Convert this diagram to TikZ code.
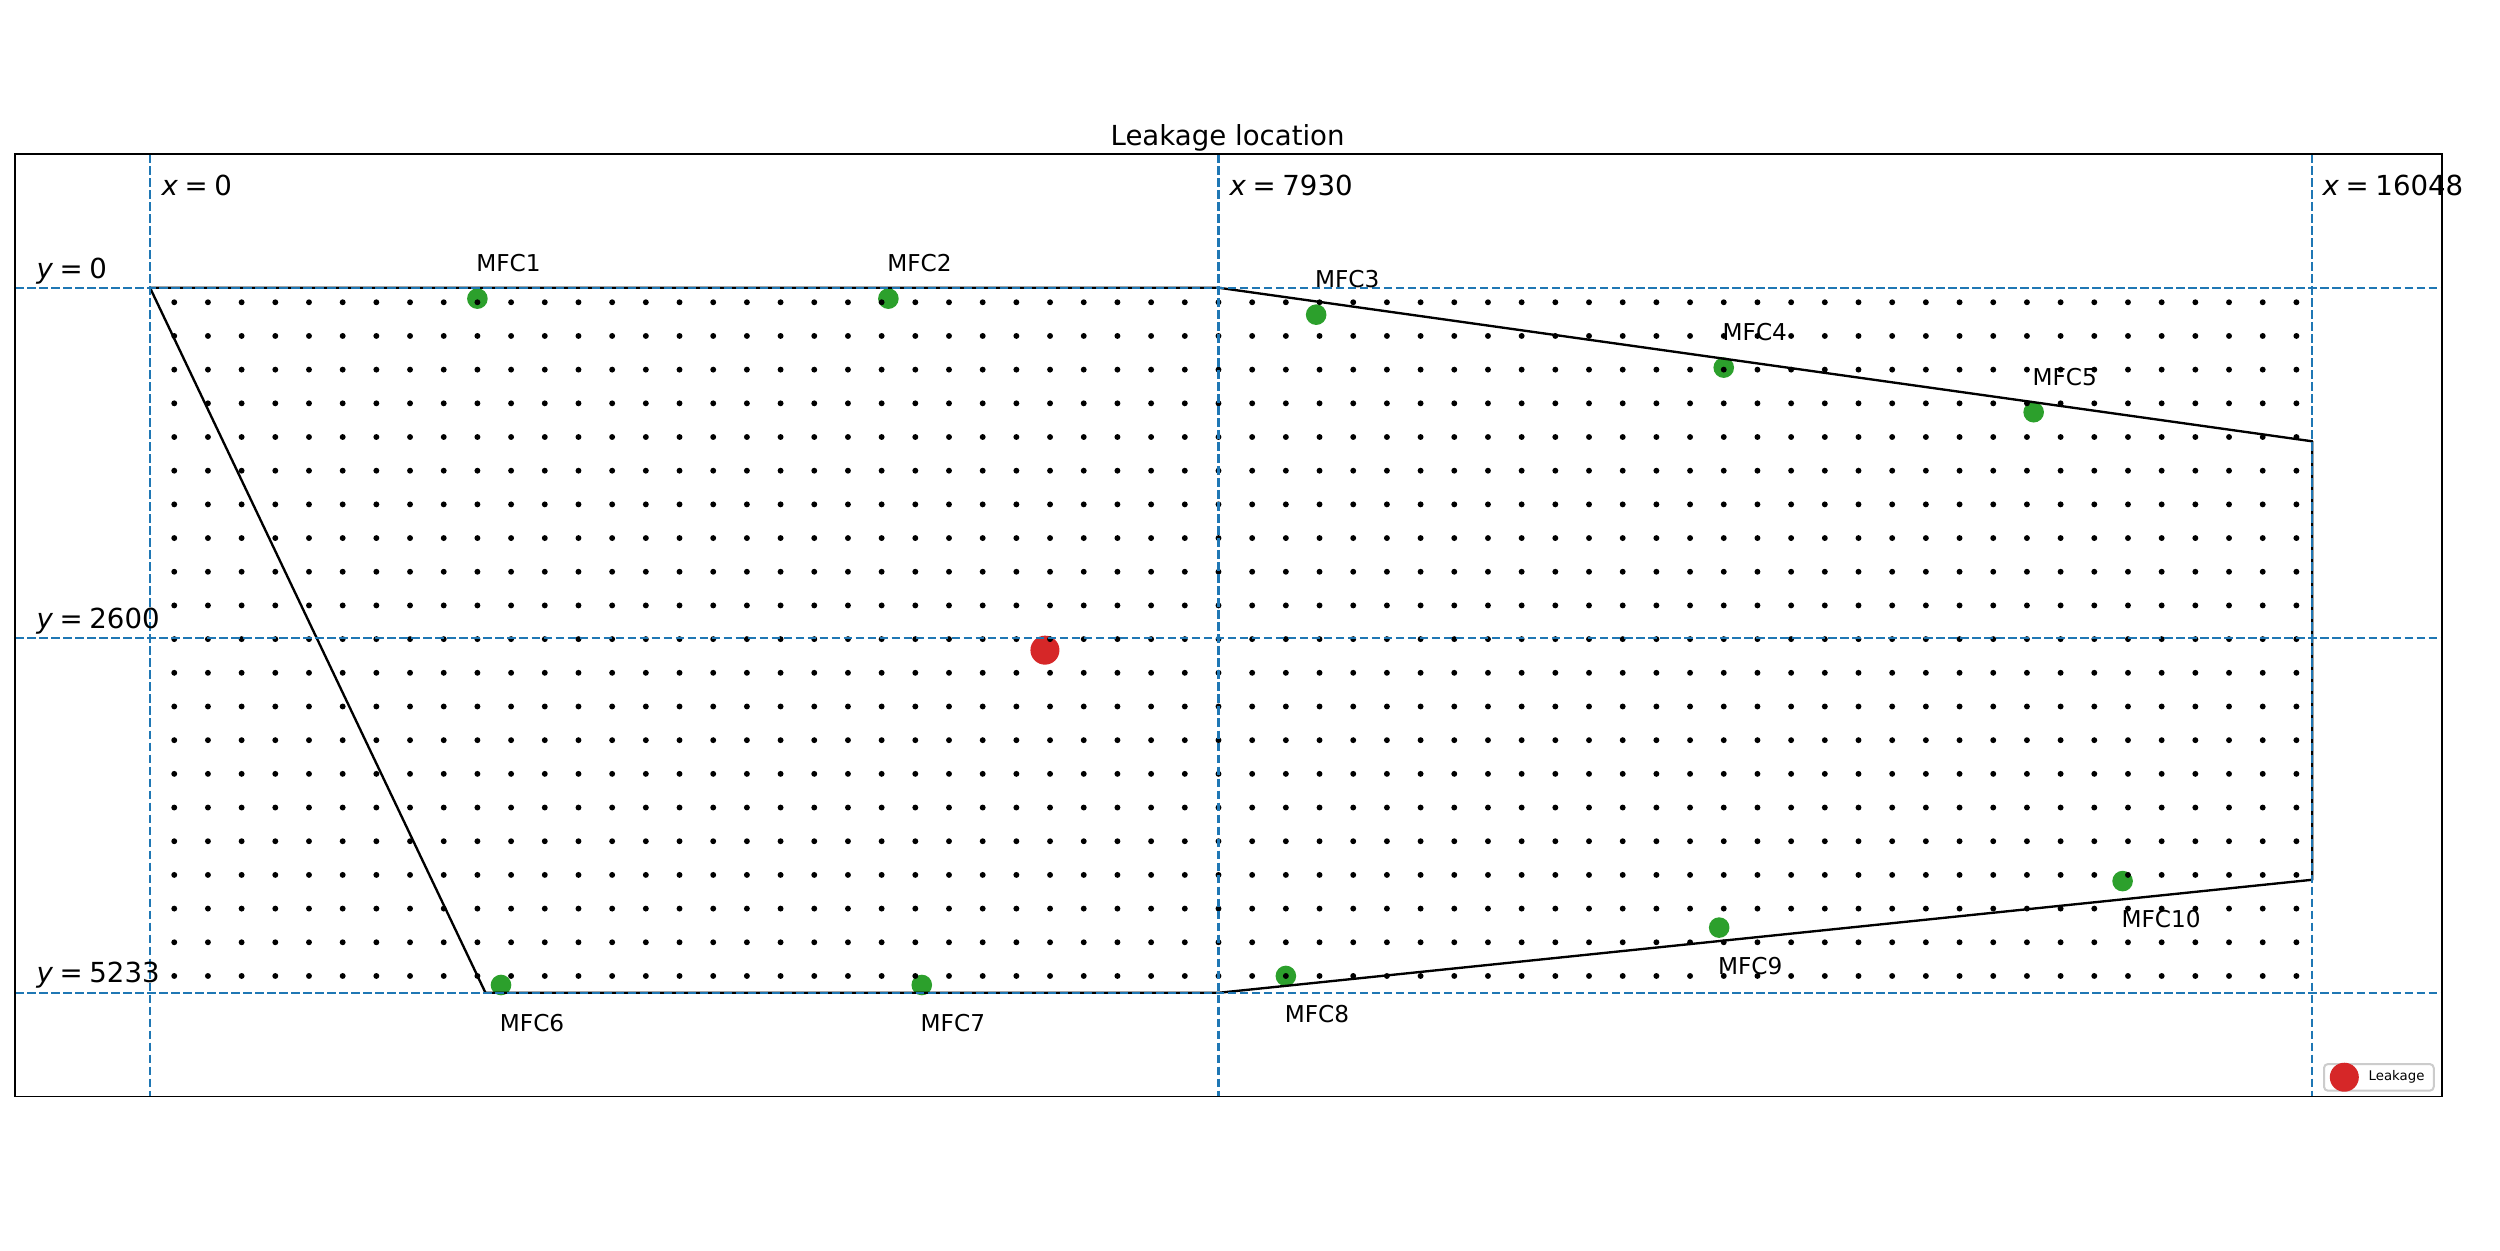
\documentclass[tikz,border=0pt]{standalone}
\usepackage{fontspec}
\setmainfont{DejaVu Sans}
\definecolor{tabblue}{HTML}{1F77B4}
\definecolor{tabgreen}{HTML}{2CA02C}
\definecolor{tabred}{HTML}{D62728}
\definecolor{legedge}{HTML}{CCCCCC}
\begin{document}
\begin{tikzpicture}[x=0.01cm,y=-0.01cm,
  dashln/.style={tabblue, line width=0.0235cm, dash pattern=on 0.084cm off 0.036cm},
  polyln/.style={black, line width=0.0235cm, line join=round},
  frameln/.style={black, line width=0.018cm},
  mfc/.style={circle, fill=tabgreen, inner sep=0pt, minimum size=0.206cm},
  leakdot/.style={circle, fill=tabred, inner sep=0pt, minimum size=0.29cm},
  mfclab/.style={inner sep=0pt, font=\fontsize{6.6pt}{7pt}\selectfont},
  toplab/.style={mfclab, anchor=base west, xshift=-0.018cm, yshift=0.268cm},
  botlab/.style={mfclab, anchor=base west, xshift=-0.018cm, yshift=-0.467cm},
  axlab/.style={inner sep=0pt, anchor=base west, font=\fontsize{7.85pt}{9pt}\selectfont},
  legtext/.style={inner sep=0pt, anchor=base west, font=\fontsize{3.78pt}{4.5pt}\selectfont},
]
\useasboundingbox (0,0) rectangle (2500,1250);
\fill[white] (0,0) rectangle (2500,1250);

% title
\node[axlab, anchor=base] (title) at (1227.6,145) {Leakage location};

\begin{scope}[shift={(150,287.7)}, x=1.3466cm, y=-1.3466cm]
  % sensors (MFC)
  \foreach \n/\px/\py in {1/2.43/0.081, 2/5.48/0.081, 3/8.655/0.200, 4/11.68/0.593, 5/13.98/0.924,
                          6/2.605/5.175, 7/5.728/5.175, 8/8.43/5.108, 9/11.646/4.749, 10/14.64/4.404}
    \node[mfc] (m\n) at (\px,\py) {};
  % leakage
  \node[leakdot] (leak) at (6.642,2.69) {};
  % grid of points
  \foreach \i in {0,...,63}
    \foreach \j in {0,...,20}
      \fill[black] ({0.18+0.25*\i},{0.108+0.25*\j}) circle[radius=0.0295cm];
  % domain outline
  \draw[polyln] (0,0) -- (7.93,0) -- (16.048,1.14) -- (16.048,4.394) -- (7.93,5.233) -- (2.49,5.233) -- cycle;
  % reference lines
  \foreach \xx in {0,7.93,16.048}
    \draw[dashln] (\xx,-0.991) -- (\xx,6.003);
  \foreach \yy in {0,2.6,5.233}
    \draw[dashln] (-1.0003,\yy) -- (17.008,\yy);
  % axes frame
  \draw[frameln] (-1.0003,-0.991) rectangle (17.008,6.003);
  % MFC labels
  \foreach \n in {1,...,5}
    \node[toplab] (l\n) at (m\n.center) {MFC\n};
  \foreach \n in {6,...,10}
    \node[botlab] (l\n) at (m\n.center) {MFC\n};
\end{scope}

% coordinate labels
\node[axlab] (xa) at (161,195) {\itshape x\upshape\kern0.24em=\kern0.24em0};
\node[axlab] (xb) at (1229,195) {\itshape x\upshape\kern0.24em=\kern0.24em7930};
\node[axlab] (xc) at (2322,195) {\itshape x\upshape\kern0.24em=\kern0.24em16048};
\node[axlab] (ya) at (36,278) {\itshape y\upshape\kern0.24em=\kern0.24em0};
\node[axlab] (yb) at (36,628.1) {\itshape y\upshape\kern0.24em=\kern0.24em2600};
\node[axlab] (yc) at (36,982.8) {\itshape y\upshape\kern0.24em=\kern0.24em5233};

% legend
\node[draw=legedge, fill=white, fill opacity=0.8, line width=0.02cm, rounded corners=0.04cm,
      inner sep=0pt, minimum width=1.097cm, minimum height=0.267cm] (legbox) at (2378.85,1077.35) {};
\node[leakdot] (legdot) at (2344.3,1077.2) {};
\node[legtext] (legtxt) at (2368,1080.7) {Leakage};
\end{tikzpicture}
\end{document}
